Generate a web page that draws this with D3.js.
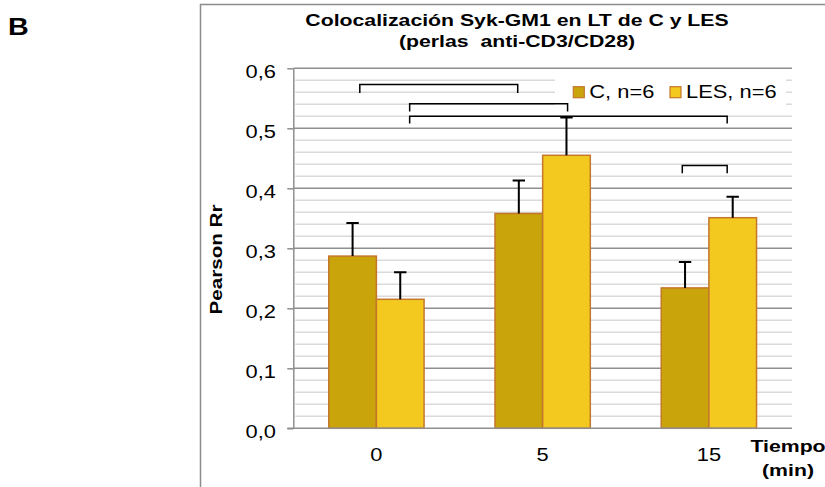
<!DOCTYPE html>
<html>
<head>
<meta charset="utf-8">
<script src="https://cdn.jsdelivr.net/npm/d3@7"></script>
<style>
  body { margin: 0; background: #fff; }
  text { font-family: "Liberation Sans", Arial, sans-serif; fill: #000; }
</style>
</head>
<body>
<div class="container"></div>
<script>
const WIDTH = 825,
    HEIGHT = 487,
    PLOT_LEFT = 293.3,
    PLOT_RIGHT = 792,
    PLOT_TOP = 68.3,
    PLOT_BOTTOM = 428.3,
    SX = 1.25; // glyphs in the picture are drawn wider than normal

const categories = ['0', '5', '15'];
const seriesNames = ['C, n=6', 'LES, n=6'];
const cValues = [0.287, 0.358, 0.234];
const cErrors = [0.055, 0.055, 0.043];
const lesValues = [0.215, 0.455, 0.351];
const lesErrors = [0.045, 0.063, 0.035];
const yDomain = [0, 0.6];
const titleLines = ['Colocalización Syk-GM1 en LT de C y LES', '(perlas  anti-CD3/CD28)'];
// significance brackets: [from, to] in category units, top and foot in Pearson Rr
const brackets = [
    [0.40, 1.35, 0.573, 0.559],
    [0.70, 1.65, 0.541, 0.528],
    [0.70, 2.61, 0.520, 0.508],
    [2.34, 2.61, 0.438, 0.425]
];

const colors = ['#c9a40b', '#f3c91f'],
    barStroke = '#c4772c';

const locale = d3.formatLocale({ decimal: ',', thousands: '.', grouping: [3], currency: ['', ''] });
const fmt = locale.format('.1f');

const x0 = d3.scaleBand().domain(categories).range([PLOT_LEFT, PLOT_RIGHT]);
const x1 = d3.scaleBand().domain(seriesNames).range([0, x0.bandwidth()])
    .paddingInner(0).paddingOuter(0.744);
const xCat = d3.scaleLinear().domain([0, categories.length]).range([PLOT_LEFT, PLOT_RIGHT]);
const y = d3.scaleLinear().domain(yDomain).range([PLOT_BOTTOM, PLOT_TOP]);

const svg = d3.select('.container').append('svg')
    .attr('width', WIDTH)
    .attr('height', HEIGHT);

var wideText = (g, x, yy, str, extra) =>
    g.append('text')
        .attr('transform', `translate(${x},${yy})${extra || ''} scale(${SX},1)`)
        .text(str);

// panel letter and frame
wideText(svg, 8, 35, 'B').style('font-size', '23px').style('font-weight', 'bold');
svg.append('path')
    .attr('d', `M200.5,${HEIGHT} V4.5 H${WIDTH}`)
    .attr('fill', 'none').attr('stroke', '#8c8c8c').attr('stroke-width', 1.5);

// title
titleLines.forEach((t, i) => {
    wideText(svg, 517, 26 + i * 20.5, t)
        .attr('text-anchor', 'middle')
        .style('font-size', '17px').style('font-weight', 'bold')
        .style('white-space', 'pre');
});

// gridlines
const majors = y.ticks(6);
const minors = y.ticks(30).filter(v => !majors.some(m => Math.abs(m - v) < 1e-9));
svg.append('g').selectAll('line').data(minors).enter().append('line')
    .attr('x1', PLOT_LEFT + 2).attr('x2', PLOT_RIGHT)
    .attr('y1', y).attr('y2', y)
    .attr('stroke', '#dadada').attr('stroke-width', 1.6);
svg.append('g').selectAll('line').data(majors.filter(v => v > 0)).enter().append('line')
    .attr('x1', PLOT_LEFT).attr('x2', PLOT_RIGHT)
    .attr('y1', y).attr('y2', y)
    .attr('stroke', '#8f8f8f').attr('stroke-width', 1.5);

// legend box hides the gridlines behind it
const legend = svg.append('g');
legend.append('rect')
    .attr('x', 555).attr('y', 72).attr('width', 231).attr('height', 37)
    .attr('fill', '#fff');
const legendX = [573.3, 670];
seriesNames.forEach((s, i) => {
    legend.append('rect')
        .attr('x', legendX[i]).attr('y', 86.7).attr('width', 11).attr('height', 11)
        .attr('fill', colors[i]).attr('stroke', barStroke).attr('stroke-width', 1.2);
    wideText(legend, legendX[i] + 16, 98.3, s).style('font-size', '17.5px');
});

// brackets
svg.append('g').selectAll('path').data(brackets).enter().append('path')
    .attr('d', d => `M${xCat(d[0])},${y(d[3])} V${y(d[2])} H${xCat(d[1])} V${y(d[3])}`)
    .attr('fill', 'none').attr('stroke', '#000').attr('stroke-width', 1.5);

// bars
const table = categories.map((c, i) => ({
    cat: c,
    items: [
        { s: seriesNames[0], v: cValues[i], e: cErrors[i], k: 0 },
        { s: seriesNames[1], v: lesValues[i], e: lesErrors[i], k: 1 }
    ]
}));

const groups = svg.append('g').selectAll('g').data(table).enter().append('g')
    .attr('transform', d => `translate(${x0(d.cat)},0)`);

groups.selectAll('rect').data(d => d.items).enter().append('rect')
    .attr('x', d => x1(d.s))
    .attr('y', d => y(d.v))
    .attr('width', x1.bandwidth())
    .attr('height', d => y(0) - y(d.v))
    .attr('fill', d => colors[d.k])
    .attr('stroke', barStroke).attr('stroke-width', 1.5);

// error bars
groups.selectAll('path.err').data(d => d.items).enter().append('path')
    .classed('err', true)
    .attr('d', d => {
        const cx = x1(d.s) + x1.bandwidth() / 2;
        return `M${cx},${y(d.v)} V${y(d.v + d.e)} M${cx - 6.2},${y(d.v + d.e)} H${cx + 6.2}`;
    })
    .attr('fill', 'none').attr('stroke', '#000').attr('stroke-width', 2);

// y axis
const yAxis = d3.axisLeft(y).tickValues(majors).tickSize(6).tickSizeOuter(0).tickFormat(fmt);
const gy = svg.append('g')
    .attr('transform', `translate(${PLOT_LEFT},0)`)
    .call(yAxis);
gy.select('.domain').attr('stroke', '#8f8f8f').attr('stroke-width', 1.5);
gy.selectAll('.tick line').attr('stroke', '#8f8f8f').attr('stroke-width', 1.5);
gy.selectAll('.tick text')
    .attr('x', null).attr('dy', null)
    .attr('transform', `translate(-17.3,9) scale(${SX},1)`)
    .attr('fill', '#000')
    .style('font-size', '17.5px').style('font-family', '"Liberation Sans", Arial, sans-serif');

// x axis
const xAxis = d3.axisBottom(x0).tickSize(0).tickSizeOuter(0);
const gx = svg.append('g')
    .attr('transform', `translate(0,${PLOT_BOTTOM})`)
    .call(xAxis);
gx.select('.domain').attr('d', `M${PLOT_LEFT - 6},0H${PLOT_RIGHT}`)
    .attr('stroke', '#8f8f8f').attr('stroke-width', 1.5);
gx.selectAll('.tick text')
    .attr('y', null).attr('dy', null)
    .attr('transform', `translate(0,32.3) scale(${SX},1)`)
    .attr('fill', '#000')
    .style('font-size', '17.5px').style('font-family', '"Liberation Sans", Arial, sans-serif');

// axis titles
wideText(svg, 788, 452.3, 'Tiempo')
    .attr('text-anchor', 'middle').style('font-size', '17px').style('font-weight', 'bold');
wideText(svg, 788, 476, '(min)')
    .attr('text-anchor', 'middle').style('font-size', '17px').style('font-weight', 'bold');
wideText(svg, 221.7, 259.5, 'Pearson Rr', ' rotate(-90)')
    .attr('text-anchor', 'middle').style('font-size', '16.5px').style('font-weight', 'bold');
</script>
</body>
</html>
